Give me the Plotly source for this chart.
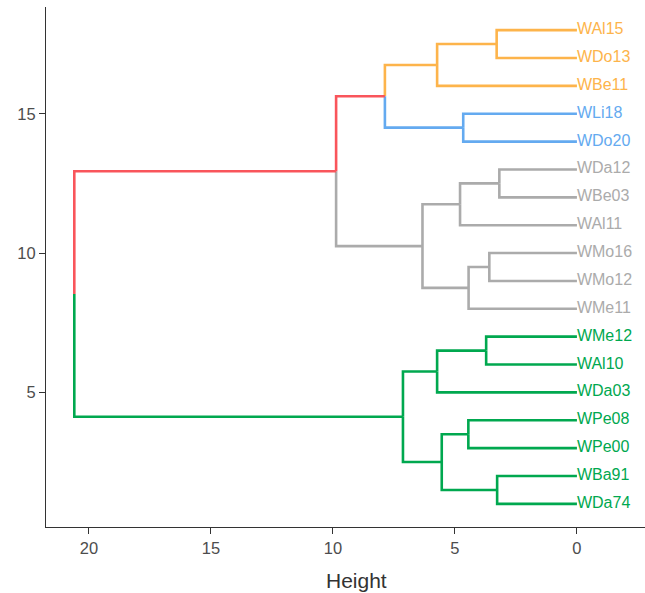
import plotly.graph_objects as go

# Leaves, top to bottom, and the cluster each one belongs to
leaves = ["WAl15", "WDo13", "WBe11", "WLi18", "WDo20",
          "WDa12", "WBe03", "WAl11", "WMo16", "WMo12", "WMe11",
          "WMe12", "WAl10", "WDa03", "WPe08", "WPe00", "WBa91", "WDa74"]
leaf_cluster = ["orange", "orange", "orange", "blue", "blue",
                "gray", "gray", "gray", "gray", "gray", "gray",
                "green", "green", "green", "green", "green", "green", "green"]

# Merge steps: (left child, right child, height); "m<k>" refers to merge k (1-based)
merge_left = ["WAl15", "m1", "WLi18", "m2", "WDa12", "m5", "WMo16", "m7", "m6",
              "m4", "WMe12", "m11", "WPe08", "WBa91", "m13", "m12", "m10"]
merge_right = ["WDo13", "WBe11", "WDo20", "m3", "WBe03", "WAl11", "WMo12", "WMe11", "m8",
               "m9", "WAl10", "WDa03", "WPe00", "WDa74", "m14", "m15", "m16"]
merge_height = [3.29, 5.73, 4.66, 7.87, 3.18, 4.79, 3.59, 4.44, 6.33,
                9.87, 3.72, 5.73, 4.45, 3.27, 5.54, 7.13, 20.6]
merge_cluster = ["orange", "orange", "blue", None, "gray", "gray", "gray", "gray", "gray",
                 None, "green", "green", "green", "green", "green", "green", None]

palette = {
    "orange": "#FDB44B",
    "blue": "#64AAF0",
    "gray": "#ABABAB",
    "green": "#00A84F",
    None: "#F9555B",
}

n = len(leaves)
pos = {}
for i, name in enumerate(leaves):
    pos[name] = (0.0, float(n - i), leaf_cluster[i])

for k, (a, b, h) in enumerate(zip(merge_left, merge_right, merge_height), start=1):
    ya = pos[a][1]
    yb = pos[b][1]
    pos["m%d" % k] = (h, (ya + yb) / 2.0, merge_cluster[k - 1])

# Collect elbow segments, one trace per colour
segs = {}
for k, (a, b, h) in enumerate(zip(merge_left, merge_right, merge_height), start=1):
    _, ym, _ = pos["m%d" % k]
    for child in (a, b):
        hc, yc, cl = pos[child]
        xs, ys = segs.setdefault(cl, ([], []))
        xs += [h, h, hc, None]
        ys += [ym, yc, yc, None]

fig = go.Figure()
for cl, (xs, ys) in segs.items():
    fig.add_trace(go.Scatter(
        x=xs, y=ys, mode="lines",
        line=dict(color=palette[cl], width=2.6),
        hoverinfo="skip", showlegend=False,
    ))

# Leaf labels
for cl in ["orange", "blue", "gray", "green"]:
    names = [nm for nm, c in zip(leaves, leaf_cluster) if c == cl]
    fig.add_trace(go.Scatter(
        x=[0.0] * len(names),
        y=[pos[nm][1] for nm in names],
        mode="text", text=names, textposition="middle right",
        textfont=dict(family="Liberation Sans, Arial, sans-serif", size=16,
                      color=palette[cl]),
        hoverinfo="skip", showlegend=False,
    ))

axis_font = dict(family="Liberation Sans, Arial, sans-serif", size=16.5, color="#4D4D4D")
fig.update_layout(
    width=645, height=593,
    margin=dict(l=46, r=0, t=7, b=66),
    plot_bgcolor="white", paper_bgcolor="white",
    xaxis=dict(
        range=[21.76, -2.79], tickvals=[0, 5, 10, 15, 20],
        showgrid=False, zeroline=False,
        showline=True, linecolor="#333333", linewidth=1.2,
        ticks="outside", ticklen=6, tickcolor="#333333", tickwidth=1.2,
        tickfont=axis_font,
    ),
    yaxis=dict(
        range=[0.17, 18.83], tickvals=[5, 10, 15],
        showgrid=False, zeroline=False,
        showline=True, linecolor="#333333", linewidth=1.2,
        ticks="outside", ticklen=6, tickcolor="#333333", tickwidth=1.2,
        tickfont=axis_font,
    ),
    annotations=[dict(
        text="Height", xref="paper", yref="paper", x=0.519, y=-0.102,
        xanchor="center", yanchor="middle", showarrow=False,
        font=dict(family="Liberation Sans, Arial, sans-serif", size=21, color="#333333"),
    )],
)

fig.write_html("out.html")
